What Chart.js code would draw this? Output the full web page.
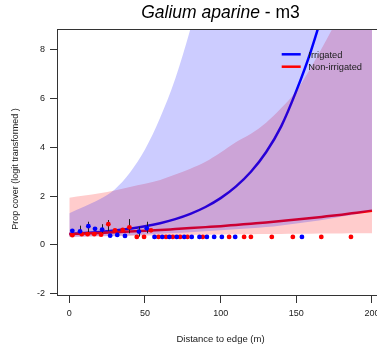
<!DOCTYPE html>
<html>
<head>
<meta charset="utf-8">
<script src="https://cdn.jsdelivr.net/npm/chart.js@4.4.1/dist/chart.umd.min.js"></script>
<style>
  html, body { margin: 0; padding: 0; background: #fff; overflow: hidden; }
  #wrap { width: 377px; height: 354px; overflow: hidden; }
</style>
</head>
<body>
<div id="wrap"><canvas id="chart" width="400" height="354"></canvas></div>
<script>
// Distances (m) where the fitted curves are evaluated
const distGrid = [0, 10, 20, 30, 40, 50, 60, 70, 80, 90, 100, 110, 120, 130, 140, 150, 160, 170, 180, 190, 200];

// Fitted curves (logit cover)
const fitIrrigated    = [0.45, 0.485, 0.53, 0.59, 0.665, 0.764, 0.892, 1.058, 1.273, 1.553, 1.915, 2.385, 2.995, 3.79, 4.85, 6.3, 8.0, 10.12, 13.02, 16.8, 21.65];
const fitNonIrrigated = [0.45, 0.47, 0.49, 0.52, 0.55, 0.58, 0.61, 0.65, 0.69, 0.73, 0.77, 0.82, 0.87, 0.92, 0.98, 1.04, 1.1, 1.17, 1.24, 1.32, 1.4];

// Confidence bands
const ciIrrigatedLow     = [0.33, 0.35, 0.37, 0.38, 0.4, 0.43, 0.46, 0.49, 0.52, 0.56, 0.6, 0.64, 0.68, 0.73, 0.8, 0.88, 0.96, 1.05, 1.16, 1.27, 1.4];
const ciIrrigatedHigh    = [1.3, 1.57, 1.87, 2.27, 2.95, 3.9, 5.2, 6.8, 8.83, 11.2, 14, 17, 21, 25, 30, 35, 41, 48, 55, 62, 70];
const ciNonIrrigatedLow  = [0.33, 0.34, 0.35, 0.36, 0.37, 0.38, 0.39, 0.4, 0.41, 0.42, 0.43, 0.44, 0.44, 0.45, 0.45, 0.46, 0.46, 0.47, 0.47, 0.48, 0.48];
const ciNonIrrigatedHigh = [1.93, 2.02, 2.12, 2.23, 2.37, 2.5, 2.66, 2.88, 3.12, 3.4, 3.78, 4.2, 4.55, 5.0, 5.6, 6.3, 7.3, 8.4, 9.6, 11, 12.5];

// Observed quadrats
const irrigatedX = [2, 7.1, 12.6, 17, 21.7, 27, 31.7, 36.8, 46, 51.2, 56.3, 61.4, 66.1, 71, 75.9, 80.9, 86, 90.9, 95.7, 100.8, 109.6, 153.7];
const irrigatedY = [0.58, 0.56, 0.77, 0.66, 0.63, 0.38, 0.41, 0.37, 0.55, 0.68, 0.33, 0.33, 0.33, 0.33, 0.33, 0.33, 0.33, 0.33, 0.33, 0.33, 0.33, 0.33];
const nonIrrigatedX = [2, 8.2, 12.1, 16.5, 21, 25.8, 30.2, 35.3, 39.7, 44.6, 49.4, 54, 58.9, 63.9, 68.4, 73.2, 78.1, 88.2, 105.6, 115.5, 120, 133.8, 147.7, 166.5, 186.1];
const nonIrrigatedY = [0.4, 0.44, 0.44, 0.44, 0.42, 0.85, 0.6, 0.62, 0.72, 0.33, 0.33, 0.6, 0.33, 0.33, 0.33, 0.33, 0.33, 0.33, 0.33, 0.33, 0.33, 0.33, 0.33, 0.33, 0.33];

// Error bars on the binned means
const errX    = [7.1, 12.6, 21.7, 25.8, 39.7, 46, 51.2];
const errLow  = [0.48, 0.48, 0.44, 0.57, 0.48, 0.34, 0.48];
const errHigh = [0.79, 0.95, 0.85, 1.02, 1.06, 0.75, 0.95];

const xTicks = [0, 50, 100, 150, 200];
const yTicks = [-2, 0, 2, 4, 6, 8];

const FONT = '"Liberation Sans", Arial, sans-serif';
const TEXT = '#1a1a1a';

function pairs(xs, ys) {
    return xs.map((x, i) => ({ x: x, y: ys[i] }));
}

function bandLine(ys, fillTo, color) {
    return {
        data: pairs(distGrid, ys),
        borderColor: 'rgba(0,0,0,0)',
        borderWidth: 0,
        pointRadius: 0,
        backgroundColor: color,
        fill: fillTo,
        cubicInterpolationMode: 'monotone'
    };
}

function fitLine(ys, color) {
    return {
        data: pairs(distGrid, ys),
        borderColor: color,
        borderWidth: 2.5,
        pointRadius: 0,
        fill: false,
        cubicInterpolationMode: 'monotone'
    };
}

function dots(xs, ys, color) {
    return {
        data: pairs(xs, ys),
        showLine: false,
        pointRadius: 2.4,
        pointBorderWidth: 0,
        pointBackgroundColor: color,
        fill: false
    };
}

// Box, titles, legend and error bars
const decor = {
    id: 'decor',
    beforeDatasetDraw(chart, args) {
        if (args.index !== 1) return; // under the dots, above the bands
        const ctx = chart.ctx;
        const xs = chart.scales.x, ys = chart.scales.y;
        ctx.save();
        ctx.strokeStyle = '#222';
        ctx.lineWidth = 1;
        errX.forEach((x, i) => {
            const px = Math.round(xs.getPixelForValue(x)) + 0.5;
            ctx.beginPath();
            ctx.moveTo(px, ys.getPixelForValue(errLow[i]));
            ctx.lineTo(px, ys.getPixelForValue(errHigh[i]));
            ctx.stroke();
        });
        ctx.restore();
    },
    afterDraw(chart) {
        const ctx = chart.ctx;
        const a = chart.chartArea;
        ctx.save();

        // plot box
        ctx.strokeStyle = '#333';
        ctx.lineWidth = 1;
        ctx.strokeRect(Math.floor(a.left) + 0.5, Math.floor(a.top) + 0.5,
            Math.floor(a.right - a.left), Math.floor(a.bottom - a.top));

        // title: species name in italics
        const cx = (a.left + a.right) / 2;
        ctx.fillStyle = '#000';
        ctx.textBaseline = 'alphabetic';
        ctx.textAlign = 'left';
        ctx.font = 'italic 17.5px ' + FONT;
        const part1 = 'Galium aparine';
        const w1 = ctx.measureText(part1).width;
        ctx.font = '17.5px ' + FONT;
        const part2 = ' - m3';
        const w2 = ctx.measureText(part2).width;
        const start = cx - (w1 + w2) / 2;
        ctx.font = 'italic 17.5px ' + FONT;
        ctx.fillText(part1, start, 17.5);
        ctx.font = '17.5px ' + FONT;
        ctx.fillText(part2, start + w1, 17.5);

        // y axis title
        ctx.save();
        ctx.translate(15.5, 169);
        ctx.rotate(-Math.PI / 2);
        ctx.font = '9px ' + FONT;
        ctx.fillStyle = TEXT;
        ctx.textAlign = 'center';
        ctx.textBaseline = 'middle';
        ctx.fillText('Prop cover (logit transformed )', 0, 0);
        ctx.restore();

        // legend
        const items = [['Irrigated', '#0000ff', 54.3], ['Non-irrigated', '#ff0000', 66.7]];
        ctx.font = '9.3px ' + FONT;
        ctx.textBaseline = 'middle';
        ctx.textAlign = 'left';
        ctx.lineWidth = 2.5;
        items.forEach(([label, color, y]) => {
            ctx.strokeStyle = color;
            ctx.beginPath();
            ctx.moveTo(281.7, y);
            ctx.lineTo(300.7, y);
            ctx.stroke();
            ctx.fillStyle = TEXT;
            ctx.fillText(label, 308.3, y + 0.8);
        });
        ctx.restore();
    }
};

const ctx = document.getElementById('chart').getContext('2d');

new Chart(ctx, {
    type: 'line',
    data: {
        datasets: [
            dots(irrigatedX, irrigatedY, '#0000ff'),
            dots(nonIrrigatedX, nonIrrigatedY, '#ff0000'),
            bandLine(ciIrrigatedHigh, '+1', 'rgba(0,0,255,0.2)'),
            bandLine(ciIrrigatedLow, false, 'rgba(0,0,255,0.2)'),
            bandLine(ciNonIrrigatedHigh, '+1', 'rgba(255,0,0,0.2)'),
            bandLine(ciNonIrrigatedLow, false, 'rgba(255,0,0,0.2)'),
            fitLine(fitNonIrrigated, '#ff0000'),
            fitLine(fitIrrigated, '#0000ff')
        ]
    },
    options: {
        responsive: false,
        animation: false,
        events: [],
        layout: { padding: { left: 0, right: 16, top: 29.5, bottom: 0 } },
        plugins: {
            legend: { display: false },
            tooltip: { enabled: false },
            title: { display: false }
        },
        scales: {
            x: {
                type: 'linear',
                min: -8.127,
                max: 207.93,
                afterBuildTicks: s => { s.ticks = xTicks.map(v => ({ value: v })); },
                afterFit: s => { s.height = 58; s.paddingLeft = 0; s.paddingRight = 0; },
                border: { display: false },
                grid: { drawOnChartArea: false, drawTicks: true, tickLength: 7, tickColor: '#333', tickWidth: 1 },
                ticks: { font: { family: FONT, size: 9 }, color: TEXT, padding: 5, maxRotation: 0 },
                title: {
                    display: true,
                    text: 'Distance to edge (m)',
                    font: { family: FONT, size: 9.5 },
                    color: TEXT,
                    padding: { top: 0, bottom: 8.5 }
                }
            },
            y: {
                type: 'linear',
                min: -2.086,
                max: 8.81,
                afterBuildTicks: s => { s.ticks = yTicks.map(v => ({ value: v })); },
                afterFit: s => { s.width = 57; s.paddingTop = 0; s.paddingBottom = 0; },
                border: { display: false },
                grid: { drawOnChartArea: false, drawTicks: true, tickLength: 7, tickColor: '#333', tickWidth: 1 },
                ticks: { font: { family: FONT, size: 9 }, color: TEXT, padding: 5 },
                title: { display: false }
            }
        }
    },
    plugins: [decor]
});
</script>
</body>
</html>
